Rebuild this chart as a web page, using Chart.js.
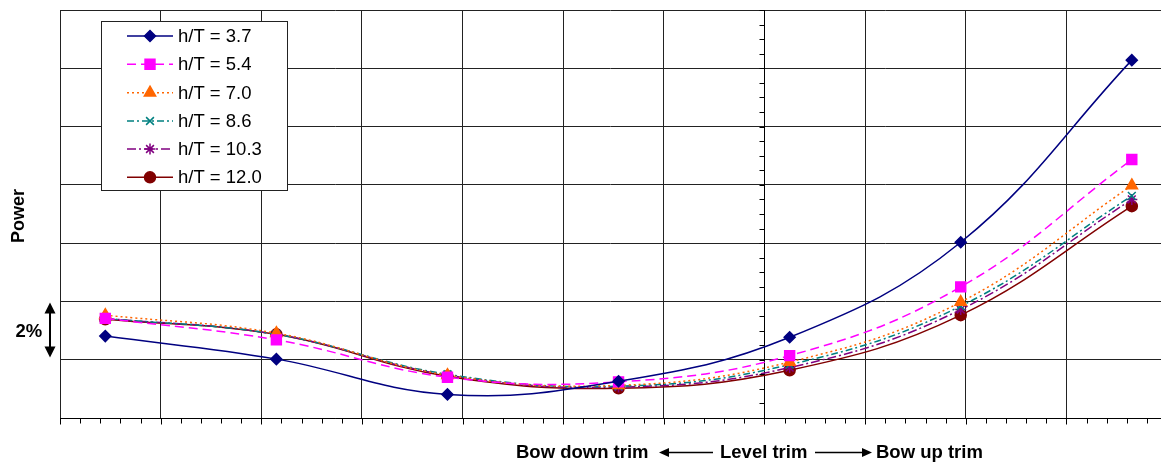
<!DOCTYPE html>
<html>
<head>
<meta charset="utf-8">
<title>Power vs trim</title>
<script src="https://cdn.jsdelivr.net/npm/chart.js@4.4.0/dist/chart.umd.min.js"></script>
<style>
  html, body { margin: 0; padding: 0; background: #fff; }
  #wrap { width: 1161px; height: 462px; }
</style>
</head>
<body>
<div id="wrap"><canvas id="powerChart" width="1161" height="462"></canvas></div>
<script>
// ------------------- DATA -------------------
// trim of each run, level trim = 0 (one grid column = 1 unit)
const trimX = [-6.55, -4.85, -3.15, -1.45, 0.25, 1.95, 3.65];

// power, in % (one grid row = 2 %)
const power37  = [2.81, 2.02, 0.81, 1.26, 2.77, 6.03, 12.28];
const power54  = [3.42, 2.68, 1.40, 1.24, 2.14, 4.50, 8.87];
const power70  = [3.53, 2.91, 1.47, 1.12, 1.92, 3.98, 7.98];
const power86  = [3.42, 2.87, 1.50, 1.09, 1.83, 3.84, 7.62];
const power103 = [3.42, 2.87, 1.47, 1.06, 1.73, 3.72, 7.50];
const power120 = [3.39, 2.87, 1.43, 1.02, 1.64, 3.53, 7.27];

const seriesLabels = ["h/T = 3.7", "h/T = 5.4", "h/T = 7.0", "h/T = 8.6", "h/T = 10.3", "h/T = 12.0"];
const seriesValues = [power37, power54, power70, power86, power103, power120];

const xTitleParts = ["Bow down trim", "Level trim", "Bow up trim"];
const yTitle = "Power";
const scaleNote = "2%";

// ------------------- STYLES -------------------
const FONT = '"Liberation Sans", Arial, sans-serif';
const styles = [
  { color: "#000080", point: "rectRot",  radius: 5.5, dash: [] },
  { color: "#FF00FF", point: "rect",     radius: 7,   dash: [9, 5] },
  { color: "#FF6600", point: "triangle", radius: 6.5, dash: [2, 3] },
  { color: "#008080", point: "crossRot", radius: 5.5, dash: [7, 3, 2, 3] },
  { color: "#800080", point: "star",     radius: 5.5, dash: [9, 3, 2, 3] },
  { color: "#800000", point: "circle",   radius: 5.5, dash: [] }
];

function toPoints(values) {
  return values.map((v, i) => ({ x: trimX[i], y: v }));
}

const datasets = seriesValues.map((vals, i) => ({
  label: seriesLabels[i],
  data: toPoints(vals),
  borderColor: styles[i].color,
  backgroundColor: styles[i].color,
  borderWidth: 1.5,
  borderDash: styles[i].dash,
  tension: 0.4,
  pointStyle: styles[i].point,
  pointRadius: styles[i].radius,
  pointBorderWidth: 1.5,
  pointBackgroundColor: styles[i].color,
  pointBorderColor: styles[i].color
}));

// ------------------- PLUGINS -------------------
function arrowHead(ctx, tipX, tipY, dx, dy, len, half) {
  // dx,dy = unit direction the arrow points to
  const bx = tipX - dx * len, by = tipY - dy * len;
  ctx.beginPath();
  ctx.moveTo(tipX, tipY);
  ctx.lineTo(bx - dy * half, by + dx * half);
  ctx.lineTo(bx + dy * half, by - dx * half);
  ctx.closePath();
  ctx.fill();
}

const extrasPlugin = {
  id: "extras",
  afterDraw(chart) {
    const ctx = chart.ctx;
    const area = chart.chartArea;
    const xs = chart.scales.x;
    const ys = chart.scales.y;
    ctx.save();
    ctx.strokeStyle = "#000";
    ctx.fillStyle = "#000";
    ctx.lineWidth = 1;

    // minor / major tick marks on bottom axis
    const bottom = Math.round(area.bottom) + 0.5;
    for (let k = -35; k <= 20; k++) {
      const px = Math.round(xs.getPixelForValue(k / 5)) + 0.5;
      if (px > area.right + 1) break;
      const len = (k % 5 === 0) ? 6 : 5;
      ctx.beginPath();
      ctx.moveTo(px, bottom);
      ctx.lineTo(px, bottom + len);
      ctx.stroke();
    }

    // minor ticks on the level-trim axis
    const x0 = Math.round(xs.getPixelForValue(0)) + 0.5;
    for (let k = 0; k <= 28; k++) {
      const py = Math.round(ys.getPixelForValue(k * 0.5)) + 0.5;
      ctx.beginPath();
      ctx.moveTo(x0 - 5, py);
      ctx.lineTo(x0, py);
      ctx.stroke();
    }

    // x title with arrows
    ctx.font = "bold 18.5px " + FONT;
    ctx.textBaseline = "alphabetic";
    ctx.textAlign = "left";
    ctx.fillText(xTitleParts[0], 516, 458);
    ctx.fillText(xTitleParts[1], 720, 458);
    ctx.fillText(xTitleParts[2], 876, 458);
    ctx.lineWidth = 1.5;
    ctx.beginPath();
    ctx.moveTo(665, 452.5); ctx.lineTo(713, 452.5);
    ctx.moveTo(815, 452.5); ctx.lineTo(865, 452.5);
    ctx.stroke();
    arrowHead(ctx, 659, 452.5, -1, 0, 10, 4.5);
    arrowHead(ctx, 872, 452.5, 1, 0, 10, 4.5);

    // y title
    ctx.save();
    ctx.translate(24, 216);
    ctx.rotate(-Math.PI / 2);
    ctx.textAlign = "center";
    ctx.font = "bold 18px " + FONT;
    ctx.fillText(yTitle, 0, 0);
    ctx.restore();

    // 2% scale marker
    ctx.font = "bold 18.5px " + FONT;
    ctx.textAlign = "left";
    ctx.fillText(scaleNote, 15.5, 337);
    ctx.lineWidth = 2;
    ctx.beginPath();
    ctx.moveTo(50, 312); ctx.lineTo(50, 348);
    ctx.stroke();
    arrowHead(ctx, 50, 302.5, 0, -1, 11, 5.5);
    arrowHead(ctx, 50, 357.5, 0, 1, 11, 5.5);

    // legend box
    const lx = 101.5, ly = 21.5, lw = 186, lh = 169;
    ctx.fillStyle = "#fff";
    ctx.fillRect(lx, ly, lw, lh);
    ctx.strokeStyle = "#222";
    ctx.lineWidth = 1;
    ctx.strokeRect(lx, ly, lw, lh);
    ctx.font = "18.5px " + FONT;
    ctx.textBaseline = "middle";
    const rowY = [36, 64.3, 92.7, 121, 149, 177.3];
    chart.data.datasets.forEach((ds, i) => {
      const y = rowY[i];
      ctx.strokeStyle = ds.borderColor;
      ctx.lineWidth = 1.5;
      ctx.setLineDash(ds.borderDash);
      ctx.beginPath();
      ctx.moveTo(127, y); ctx.lineTo(173, y);
      ctx.stroke();
      ctx.setLineDash([]);
      ctx.fillStyle = ds.pointBackgroundColor;
      Chart.helpers.drawPoint(ctx, {
        pointStyle: ds.pointStyle,
        radius: ds.pointRadius,
        borderWidth: 1.5,
        rotation: 0
      }, 150, y);
      ctx.fillStyle = "#000";
      ctx.fillText(ds.label, 178, y + 1);
    });
    ctx.restore();
  }
};

// ------------------- CHART -------------------
const ctx = document.getElementById("powerChart").getContext("2d");

const powerChart = new Chart(ctx, {
  type: "line",
  data: { datasets: datasets },
  options: {
    responsive: false,
    animation: false,
    devicePixelRatio: 1,
    layout: { autoPadding: false, padding: { left: 60, top: 10, right: 0, bottom: 44 } },
    scales: {
      x: {
        type: "linear",
        min: -7,
        max: 3.94,
        ticks: { display: false, stepSize: 1, includeBounds: false },
        grid: { color: "#222", lineWidth: 1, drawTicks: false },
        border: { display: true, color: "#000", width: 1 }
      },
      y: {
        type: "linear",
        position: { x: 0 },
        min: 0,
        max: 14,
        ticks: { display: false, stepSize: 2 },
        grid: { color: "#222", lineWidth: 1, drawTicks: false },
        border: { display: true, color: "#000", width: 1 }
      }
    },
    plugins: {
      legend: { display: false },
      tooltip: { enabled: false }
    }
  },
  plugins: [extrasPlugin]
});
</script>
</body>
</html>
